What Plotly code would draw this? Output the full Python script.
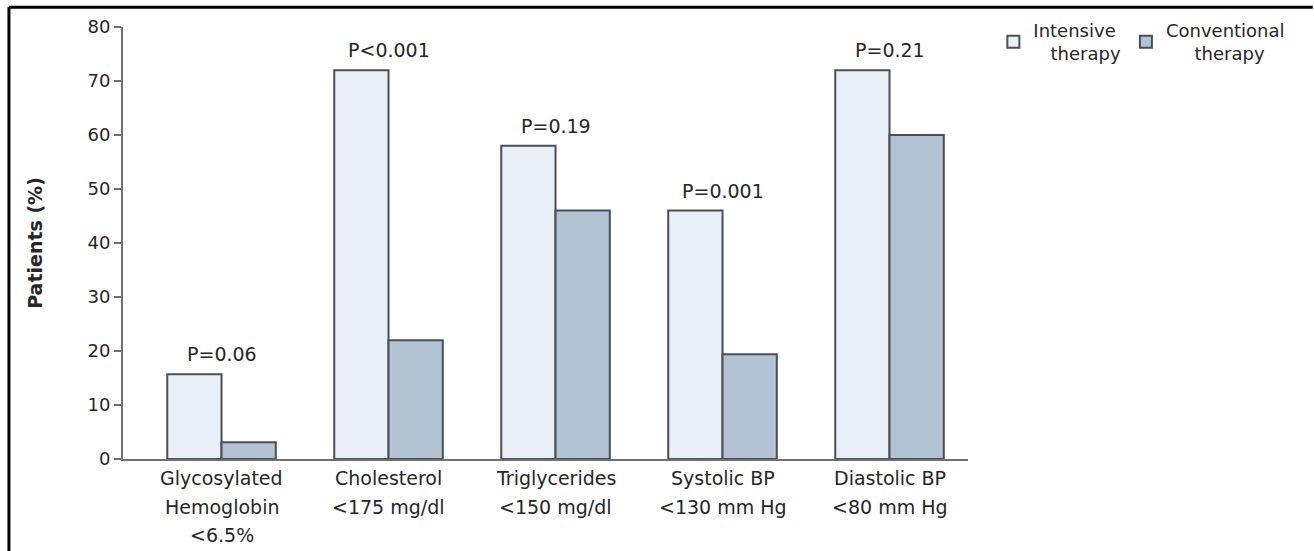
import plotly.graph_objects as go

# Outcome categories (x axis labels, one entry per line)
categories = ["Glycosylated Hemoglobin", "Cholesterol", "Triglycerides", "Systolic BP", "Diastolic BP"]
category_lines = [
    ["Glycosylated", "Hemoglobin", "<6.5%"],
    ["Cholesterol", "<175 mg/dl"],
    ["Triglycerides", "<150 mg/dl"],
    ["Systolic BP", "<130 mm Hg"],
    ["Diastolic BP", "<80 mm Hg"],
]

# Percentage of patients reaching each treatment goal
intensive = [15.7, 72, 58, 46, 72]
conventional = [3.1, 22, 46, 19.4, 60]

# P values for the between-group comparison
p_values = ["P=0.06", "P<0.001", "P=0.19", "P=0.001", "P=0.21"]

y_ticks = [0, 10, 20, 30, 40, 50, 60, 70, 80]

FONT = "DejaVu Sans, Open Sans, sans-serif"
TXT = "#262626"
EDGE = "#4a4f55"
AXIS = "#707070"
NB = "\u00a0"

fig = go.Figure()
fig.add_trace(go.Bar(
    x=categories, y=intensive, name="Intensive<br>" + NB * 3 + "therapy",
    marker=dict(color="#e9eff6", line=dict(color=EDGE, width=2)),
))
fig.add_trace(go.Bar(
    x=categories, y=conventional, name="Conventional<br>" + NB * 5 + "therapy",
    marker=dict(color="#b3c3d3", line=dict(color=EDGE, width=2)),
))

# P-value labels above each pair of bars
for cat, a, b, p in zip(categories, intensive, conventional, p_values):
    fig.add_annotation(
        x=cat, y=max(a, b), text=p, showarrow=False,
        yanchor="bottom", yshift=7,
        font=dict(family=FONT, size=19, color=TXT),
    )

# Multi-line category labels under the axis
for cat, lines in zip(categories, category_lines):
    for i, line in enumerate(lines):
        fig.add_annotation(
            x=cat, y=0, yref="y", text=line, showarrow=False,
            yanchor="middle", yshift=-19 - 28.5 * i,
            font=dict(family=FONT, size=19, color=TXT),
        )

fig.update_layout(
    width=1314, height=551,
    margin=dict(l=123, r=346, t=25, b=92),
    paper_bgcolor="white", plot_bgcolor="white",
    barmode="group", bargap=0.35, bargroupgap=0,
    font=dict(family=FONT, size=18, color=TXT),
    legend=dict(
        orientation="h", x=1.03, y=1.035, xanchor="left", yanchor="top",
        font=dict(family=FONT, size=18, color=TXT),
        itemsizing="constant", traceorder="normal",
        bgcolor="rgba(0,0,0,0)",
    ),
    xaxis=dict(
        type="category", range=[-0.59, 4.47],
        showticklabels=False, ticks="",
        showline=True, linecolor=AXIS, linewidth=2,
        showgrid=False, zeroline=False,
    ),
    yaxis=dict(
        range=[0, 80], tickvals=y_ticks,
        ticks="outside", ticklen=7, tickcolor=AXIS, tickwidth=1.5,
        showline=True, linecolor=AXIS, linewidth=2,
        showgrid=False, zeroline=False,
        tickfont=dict(family=FONT, size=18, color=TXT),
        title=dict(text="<b>Patients (%)</b>", standoff=40,
                   font=dict(family=FONT, size=19, color=TXT)),
    ),
)

# Black frame along the top and left edges
fig.add_shape(type="line", xref="paper", yref="paper",
              x0=-0.135, x1=1.408, y0=1.046, y1=1.046,
              line=dict(color="black", width=3))
fig.add_shape(type="line", xref="paper", yref="paper",
              x0=-0.135, x1=-0.135, y0=1.046, y1=-0.22,
              line=dict(color="black", width=3))

fig.write_html("out.html")
